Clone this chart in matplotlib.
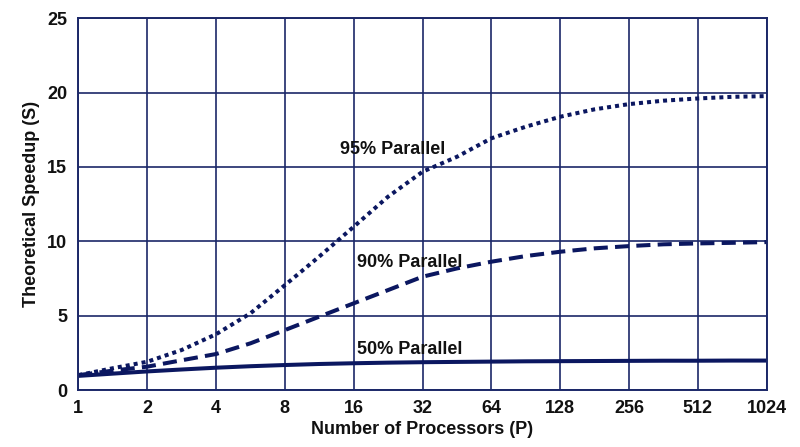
import matplotlib
matplotlib.use("Agg")
import matplotlib.pyplot as plt
from matplotlib.ticker import FixedLocator, FixedFormatter

# Data
procs = [1, 1.41, 2, 2.83, 4, 5.66, 8, 11.3, 16, 22.6, 32, 45.3, 64, 90.5,
         128, 181, 256, 362, 512, 724, 1024]
speedup_95 = [1.0, 1.46, 1.9, 2.69, 3.75, 5.16, 7.05, 8.97, 10.98, 13.0, 14.68,
              15.69, 16.93, 17.71, 18.38, 18.88, 19.23, 19.46, 19.61, 19.72, 19.77]
speedup_90 = [1.0, 1.3, 1.57, 2.0, 2.42, 3.14, 4.03, 4.93, 5.83, 6.72, 7.62,
              8.18, 8.63, 9.01, 9.30, 9.53, 9.68, 9.8, 9.86, 9.9, 9.95]
speedup_50 = [0.95, 1.1, 1.25, 1.38, 1.5, 1.6, 1.68, 1.75, 1.8, 1.84, 1.87,
              1.89, 1.91, 1.93, 1.94, 1.95, 1.96, 1.97, 1.97, 1.98, 1.98]
x_ticks = [1, 2, 4, 8, 16, 32, 64, 128, 256, 512, 1024]
x_tick_labels = ["1", "2", "4", "8", "16", "32", "64", "128", "256", "512", "1024"]
y_ticks = [0, 5, 10, 15, 20, 25]
labels = ["95% Parallel", "90% Parallel", "50% Parallel"]

navy = "#0b1760"
grid_c = "#1b2868"
txt = "#111111"

fig = plt.figure(figsize=(8, 4.47), dpi=100)
ax = fig.add_axes([0.0979, 0.1275, 0.8605, 0.8315])

ax.plot(procs, speedup_95, color=navy, lw=2.9, linestyle=(0, (1, 1)))
ax.plot(procs, speedup_90, color=navy, lw=2.9, linestyle=(0, (3.5, 1.8)))
ax.plot(procs, speedup_50, color=navy, lw=2.9, solid_capstyle="butt")

ax.set_xscale("log", base=2)
ax.set_xlim(1, 1024)
ax.set_ylim(0, 25)
ax.xaxis.set_major_locator(FixedLocator(x_ticks))
ax.xaxis.set_major_formatter(FixedFormatter(x_tick_labels))
ax.xaxis.set_minor_locator(FixedLocator([]))
ax.set_yticks(y_ticks)

wide = ["Liberation Sans", "DejaVu Sans"]

for t in ax.get_xticklabels():
    t.set_fontfamily(wide)
    t.set_fontweight("bold")
    t.set_fontsize(13)
for t in ax.get_yticklabels():
    t.set_fontfamily(wide)
    t.set_fontweight("bold")
    t.set_fontsize(13)

ax.tick_params(axis="x", length=0, pad=7, colors=txt)
ax.tick_params(axis="y", length=0, pad=8, colors=txt)

ax.grid(True, color=grid_c, lw=1.2)
ax.set_axisbelow(True)
for s in ax.spines.values():
    s.set_color(grid_c)
    s.set_linewidth(1.4)

ax.set_xlabel("Number of Processors (P)", fontfamily=wide, fontweight="bold",
              fontsize=13, color=txt, labelpad=3)
ax.set_ylabel("Theoretical Speedup (S)", fontfamily=wide, fontweight="bold",
              fontsize=13, color=txt, labelpad=5)

ax.text(13.9, 16.2, labels[0], fontfamily=wide, fontweight="bold", fontsize=13,
        color=txt, va="center", ha="left")
ax.text(16.5, 8.55, labels[1], fontfamily=wide, fontweight="bold", fontsize=13,
        color=txt, va="center", ha="left")
ax.text(16.5, 2.7, labels[2], fontfamily=wide, fontweight="bold", fontsize=13,
        color=txt, va="center", ha="left")

fig.savefig("out.png", dpi=100, facecolor="white")
